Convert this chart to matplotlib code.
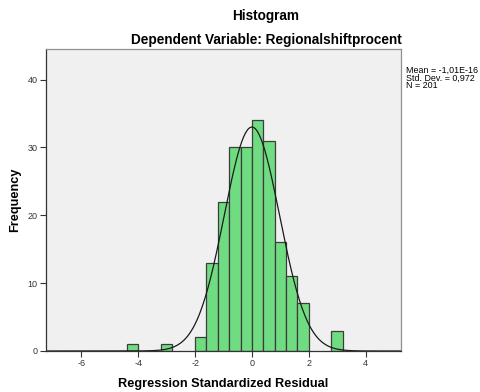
import matplotlib
matplotlib.use('Agg')
import matplotlib.pyplot as plt
import numpy as np

plt.rcParams['font.family'] = ['Liberation Sans', 'DejaVu Sans']
plt.rcParams['axes.unicode_minus'] = False

# histogram bins (left edge, count), bin width 0.4
bin_lefts = [-4.4, -3.2, -2.0, -1.6, -1.2, -0.8, -0.4, 0.0, 0.4, 0.8, 1.2, 1.6, 2.8]
counts = [1, 1, 2, 13, 22, 30, 30, 34, 31, 16, 11, 7, 3]
bin_width = 0.4
mean = -1.01e-16
std = 0.972
n = 201

x_ticks = [-6, -4, -2, 0, 2, 4]
y_ticks = [0, 10, 20, 30, 40]

fig = plt.figure(figsize=(4.81, 3.92), dpi=100)
ax = fig.add_axes([0.0956, 0.1046, 0.7381, 0.7704])
ax.set_facecolor('#f0f0f0')

ax.bar(bin_lefts, counts, width=bin_width, align='edge',
       color='#70dc82', edgecolor='#3c3c3c', linewidth=0.9)

xs = np.linspace(-7.25, 5.25, 400)
pdf = n * bin_width / (std * np.sqrt(2 * np.pi)) * np.exp(-0.5 * ((xs - mean) / std) ** 2)
ax.plot(xs, pdf, color='#1a1a1a', linewidth=0.9)

ax.set_xlim(-7.25, 5.25)
ax.set_ylim(0, 44.5)
ax.set_xticks(x_ticks)
ax.set_yticks(y_ticks)
ax.tick_params(labelsize=6.5, length=4, width=0.8, color='#333333', pad=2,
               labelcolor='#333333')
for side in ['left', 'bottom']:
    ax.spines[side].set_color('#333333')
    ax.spines[side].set_linewidth(0.9)
for side in ['top', 'right']:
    ax.spines[side].set_color('#909090')
    ax.spines[side].set_linewidth(0.9)

ax.set_xlabel('Regression Standardized Residual', fontsize=9.2, fontweight='bold', labelpad=7)
ax.set_ylabel('Frequency', fontsize=9.2, fontweight='bold', labelpad=5)

fig.text(0.553, 0.96, 'Histogram', ha='center', va='center', fontsize=9.8, fontweight='bold')
fig.text(0.553, 0.898, 'Dependent Variable: Regionalshiftprocent', ha='center', va='center',
         fontsize=9.8, fontweight='bold')

fig.text(0.845, 0.832, 'Mean = -1,01E-16\nStd. Dev. = 0,972\nN = 201', ha='left', va='top',
         fontsize=6.4, linespacing=0.8)

fig.savefig('out.png', dpi=100)
